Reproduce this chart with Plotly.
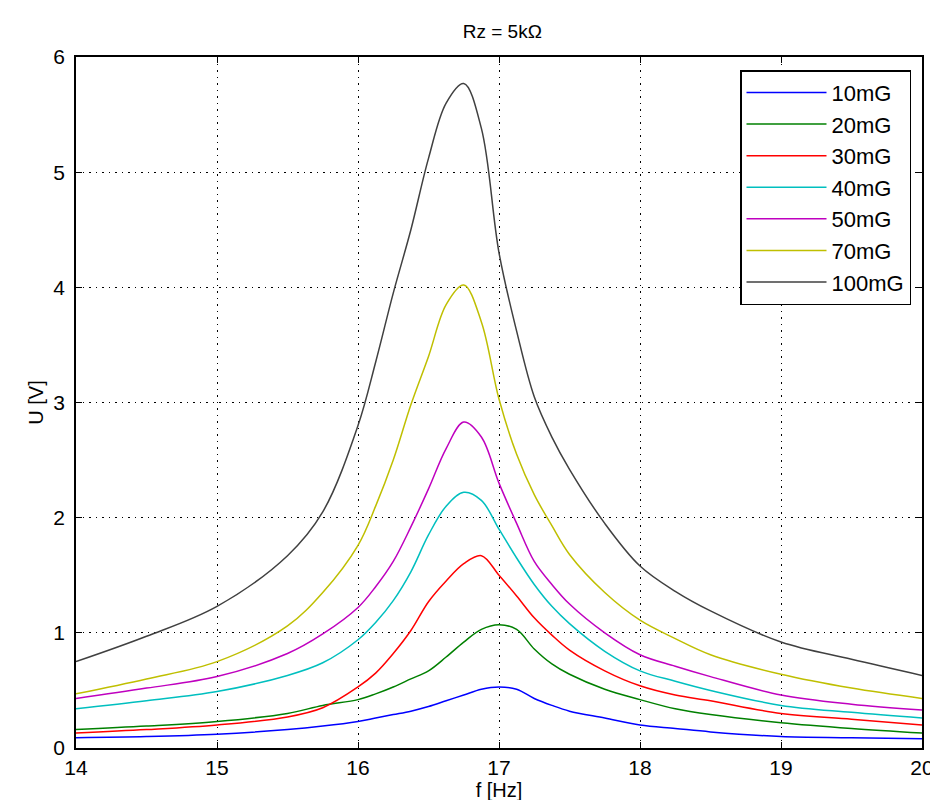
import plotly.graph_objects as go

freq = [14, 14.5, 15, 15.5, 15.75, 16, 16.125, 16.25, 16.375, 16.5, 16.625, 16.75, 16.875,
        17, 17.125, 17.25, 17.375, 17.5, 17.75, 18, 18.25, 18.5, 19, 19.5, 20]

u_10mG = [0.09, 0.10, 0.12, 0.16, 0.19, 0.23, 0.26, 0.29, 0.32, 0.36, 0.41, 0.46, 0.51,
          0.53, 0.51, 0.43, 0.37, 0.32, 0.26, 0.20, 0.17, 0.14, 0.10, 0.09, 0.08]
u_20mG = [0.16, 0.19, 0.23, 0.30, 0.37, 0.42, 0.47, 0.53, 0.60, 0.67, 0.79, 0.92, 1.03,
          1.07, 1.03, 0.86, 0.73, 0.64, 0.51, 0.42, 0.34, 0.29, 0.22, 0.17, 0.13]
u_30mG = [0.13, 0.16, 0.20, 0.27, 0.35, 0.53, 0.65, 0.82, 1.02, 1.27, 1.45, 1.60, 1.67,
          1.50, 1.32, 1.13, 0.98, 0.85, 0.67, 0.54, 0.46, 0.41, 0.30, 0.25, 0.20]
u_40mG = [0.34, 0.41, 0.49, 0.63, 0.74, 0.94, 1.09, 1.28, 1.53, 1.85, 2.10, 2.22, 2.15,
          1.90, 1.65, 1.42, 1.23, 1.08, 0.84, 0.67, 0.58, 0.50, 0.37, 0.31, 0.26]
u_50mG = [0.43, 0.52, 0.62, 0.82, 0.99, 1.22, 1.40, 1.62, 1.92, 2.25, 2.60, 2.83, 2.70,
          2.30, 1.95, 1.62, 1.42, 1.25, 1.00, 0.81, 0.71, 0.62, 0.46, 0.38, 0.33]
u_70mG = [0.47, 0.60, 0.75, 1.06, 1.35, 1.76, 2.10, 2.50, 2.98, 3.40, 3.85, 4.02, 3.70,
          3.03, 2.55, 2.20, 1.93, 1.68, 1.35, 1.11, 0.95, 0.81, 0.64, 0.52, 0.43]
u_100mG = [0.75, 0.97, 1.23, 1.67, 2.05, 2.80, 3.35, 3.95, 4.50, 5.12, 5.60, 5.77, 5.38,
           4.30, 3.62, 3.05, 2.70, 2.42, 1.95, 1.58, 1.36, 1.19, 0.92, 0.77, 0.63]

names = ["10mG", "20mG", "30mG", "40mG", "50mG", "70mG", "100mG"]
series = [u_10mG, u_20mG, u_30mG, u_40mG, u_50mG, u_70mG, u_100mG]
colors = ["#0000FF", "#008000", "#FF0000", "#00BFBF", "#BF00BF", "#BFBF00", "#404040"]

x_ticks = [14, 15, 16, 17, 18, 19, 20]
y_ticks = [0, 1, 2, 3, 4, 5, 6]

fig = go.Figure()
for n, s, c in zip(names, series, colors):
    fig.add_trace(go.Scatter(x=freq, y=s, name=n, mode="lines",
                             line=dict(color=c, width=1.5, shape="spline", smoothing=1.0)))

font = "Liberation Sans, Arial, sans-serif"
axis_common = dict(showline=True, linecolor="black", linewidth=1.5, mirror="ticks",
                   ticks="inside", ticklen=6, tickcolor="black",
                   showgrid=True, gridcolor="black", griddash="1.5px,5px", gridwidth=1.2,
                   zeroline=False, tickfont=dict(size=21, color="black", family=font))

fig.update_layout(
    width=938, height=800,
    paper_bgcolor="white", plot_bgcolor="white",
    margin=dict(l=68, r=14, t=49, b=60),
    title=dict(text="Rz = 5kΩ", x=0.527, xanchor="center", y=0.971, yanchor="middle",
               font=dict(size=19, color="black", family=font)),
    xaxis=dict(range=[14, 20], tickvals=x_ticks, ticklabelstandoff=0, **axis_common,
               title=dict(text="f [Hz]", font=dict(size=20, color="black", family=font), standoff=2)),
    yaxis=dict(range=[0, 6], tickvals=y_ticks, ticklabelstandoff=5, **axis_common,
               title=dict(text="U [V]", font=dict(size=20, color="black", family=font), standoff=4)),
    legend=dict(x=0.987, y=0.981, xanchor="right", yanchor="top",
                bgcolor="white", bordercolor="black", borderwidth=1.5,
                font=dict(size=22, color="black", family=font),
                itemwidth=80, tracegroupgap=0),
    showlegend=True,
)

fig.write_html("out.html")
